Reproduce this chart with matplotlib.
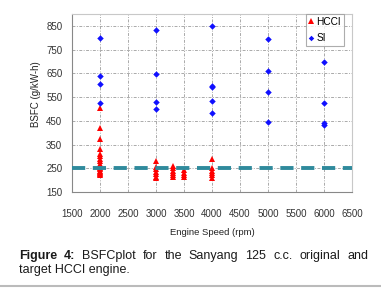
import matplotlib
matplotlib.use("Agg")
import matplotlib.pyplot as plt
from matplotlib.lines import Line2D

plt.rcParams['font.family'] = ['Liberation Sans', 'DejaVu Sans']

# SI (original engine) points
si_rpm = [2000, 2000, 2000, 2000,
          3000, 3000, 3000, 3000,
          4000, 4000, 4000, 4000, 4000,
          5000, 5000, 5000, 5000,
          6000, 6000, 6000, 6000]
si_bsfc = [797, 640, 605, 527,
           831, 648, 528, 498,
           851, 597, 591, 535, 481,
           793, 658, 572, 446,
           699, 524, 440, 431]

# HCCI (target engine) points
hcci_rpm = [2000] * 19 + [3000] * 7 + [3300] * 6 + [3500] * 4 + [4000] * 6
hcci_bsfc = [503, 420, 373, 330, 310, 300, 290, 280, 270, 265, 260, 255, 250,
             245, 240, 235, 230, 225, 220,
             280, 255, 245, 235, 225, 215, 207,
             260, 250, 240, 230, 220, 212,
             242, 232, 222, 212,
             290, 250, 240, 230, 220, 210]

target_line = 250
xticks = [1500, 2000, 2500, 3000, 3500, 4000, 4500, 5000, 5500, 6000, 6500]
yticks = [150, 250, 350, 450, 550, 650, 750, 850]

fig = plt.figure(figsize=(3.81, 2.89), dpi=100)
ax = fig.add_axes([72/381, 1-192/289, 280/381, 178/289])

ax.set_xlim(1500, 6500)
ax.set_ylim(150, 900)
ax.set_xticks(xticks)
ax.set_yticks(yticks)
ax.grid(True, color='#aaaaaa', linestyle=(0, (3, 1.5, 1, 1.5)), linewidth=0.7)
ax.set_axisbelow(True)

ax.plot(hcci_rpm, hcci_bsfc, linestyle='none', marker='^', color='#ff0000',
        markersize=4.5, markeredgewidth=0, label='HCCI', zorder=3)
ax.plot(si_rpm, si_bsfc, linestyle='none', marker='D', color='#1010ff',
        markersize=3.3, markeredgewidth=0, label='SI', zorder=3)

ln = ax.axhline(target_line, color='#2f8a9c', linewidth=2.8, zorder=4)
ln.set_dashes([9.5/2.8, 5.5/2.8])

ax.tick_params(axis='both', length=0, labelsize=7, colors='#333333')
ax.tick_params(axis='x', pad=12)
ax.tick_params(axis='y', pad=7)
for s in ['left', 'bottom']:
    ax.spines[s].set_color('#888888')
for s in ['top', 'right']:
    ax.spines[s].set_color('#c8c8c8')

ax.set_xlabel('Engine Speed (rpm)', fontsize=6.8, color='#222222', labelpad=7)
ax.set_ylabel('BSFC (g/kW-h)', fontsize=7, color='#222222')
ax.yaxis.set_label_coords(-0.112, 0.55)

leg = ax.legend(loc='upper right', fontsize=7.3, handlelength=0.5,
                handletextpad=0.25, borderpad=0.3, labelspacing=0.6,
                borderaxespad=0, markerscale=0.85,
                frameon=True, fancybox=False)
leg.get_frame().set_edgecolor('#999999')
leg.get_frame().set_linewidth(0.8)
leg.set_bbox_to_anchor(((344 - 72) / 280, (192 - 14) / 178), transform=ax.transAxes)

# caption, first line justified
words = ['Figure', '4:', 'BSFCplot', 'for', 'the', 'Sanyang', '125', 'c.c.', 'original', 'and']
bold = [True, True] + [False] * 8
x0, x1 = 19/381, 368/381
y1 = 1 - 256/289
r = fig.canvas.get_renderer()
txts = []
for w, b in zip(words, bold):
    t = fig.text(0, y1, w, fontsize=9, weight='bold' if b else 'normal',
                 color='#1a1a1a', va='center', ha='left')
    txts.append(t)
widths = [t.get_window_extent(r).width / fig.bbox.width for t in txts]
gap = (x1 - x0 - sum(widths)) / (len(words) - 1)
xp = x0
for t, wd in zip(txts, widths):
    t.set_x(xp)
    xp += wd + gap
fig.text(x0, 1 - 270/289, 'target HCCI engine.', fontsize=9, color='#1a1a1a',
         va='center', ha='left')

fig.add_artist(Line2D([0, 1], [1 - 286/289] * 2, color='#bbbbbb', linewidth=1.5))

fig.savefig('out.png', dpi=100)
